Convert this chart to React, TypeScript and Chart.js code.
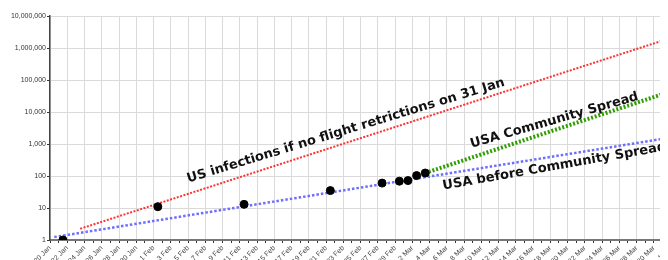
import React, { useEffect, useRef } from 'react';
import { Chart, registerables } from 'chart.js';

Chart.register(...registerables);

// ---- data ----
const AXIS_START = '2020-01-20';
const AXIS_END = '2020-04-01';
const MONTH_NAMES = ['Jan', 'Feb', 'Mar', 'Apr', 'May', 'Jun', 'Jul', 'Aug', 'Sep', 'Oct', 'Nov', 'Dec'];
const yTickValues = [1, 10, 100, 1000, 10000, 100000, 1000000, 10000000];

// reported US cases (plotted at noon of each day)
const caseDates = ['2020-01-21T12:00', '2020-02-01T12:00', '2020-02-11T12:00', '2020-02-21T12:00', '2020-02-27T12:00', '2020-02-29T12:00', '2020-03-01T12:00', '2020-03-02T12:00', '2020-03-03T12:00'];
const caseValues = [1, 11, 13, 35, 60, 69, 72, 103, 124];

// trend lines
const noFlightBanDates = ['2020-01-23T12:00', '2020-04-01T12:00'];
const noFlightBanValues = [2.25, 2290000];
const beforeSpreadDates = ['2020-01-20T12:00', '2020-04-01T12:00'];
const beforeSpreadValues = [1.24, 1680];
const communitySpreadDates = ['2020-03-03T12:00', '2020-04-01T12:00'];
const communitySpreadValues = [124, 49000];

// line annotations
const labelTexts = ['US infections if no flight retrictions on 31 Jan', 'USA Community Spread', 'USA before Community Spread'];
const labelDates = ['2020-02-23T10:00', '2020-03-18T14:00', '2020-03-18T13:00'];
const labelValues = [2050, 4300, 155];
const labelAngles = [-17, -16, -10];

// ---- helpers ----
const DAY_MS = 86400000;
const parseUTC = (s: string) => Date.parse(s.includes('T') ? s + 'Z' : s + 'T00:00Z');
const startMs = parseUTC(AXIS_START);
const toDay = (s: string) => (parseUTC(s) - startMs) / DAY_MS;
const totalDays = toDay(AXIS_END);
const dayTicks: number[] = [];
for (let d = 0; d <= totalDays; d++) dayTicks.push(d);

const dayLabel = (v: number) => {
  if (Math.round(v) % 2 !== 0) return '';
  const dt = new Date(startMs + v * DAY_MS);
  return `${dt.getUTCDate()} ${MONTH_NAMES[dt.getUTCMonth()]}`;
};

const series = (dates: string[], values: number[]) => dates.map((d, i) => ({ x: toDay(d), y: values[i] }));

const labelPlugin = {
  id: 'lineLabels',
  afterDatasetsDraw(chart: any) {
    const { ctx, scales } = chart;
    ctx.save();
    ctx.font = 'bold 13px "DejaVu Sans"';
    ctx.fillStyle = '#111';
    ctx.textAlign = 'center';
    ctx.textBaseline = 'alphabetic';
    labelTexts.forEach((t, i) => {
      const px = scales.x.getPixelForValue(toDay(labelDates[i]));
      const py = scales.y.getPixelForValue(labelValues[i]);
      ctx.save();
      ctx.translate(px, py);
      ctx.rotate((labelAngles[i] * Math.PI) / 180);
      ctx.fillText(t, 0, 0);
      ctx.restore();
    });
    ctx.restore();
  },
};

export default function App() {
  const ref = useRef<HTMLCanvasElement | null>(null);

  useEffect(() => {
    if (!ref.current) return;
    const font = { family: '"Liberation Sans", Arial, sans-serif', size: 7 };
    const chart = new Chart(ref.current, {
      type: 'line',
      data: {
        datasets: [
          {
            label: 'US cases',
            data: series(caseDates, caseValues),
            showLine: false,
            pointRadius: 4,
            pointBackgroundColor: '#000',
            pointBorderColor: '#000',
            borderColor: '#000',
          },
          {
            label: 'No flight restrictions',
            data: series(noFlightBanDates, noFlightBanValues),
            borderColor: 'rgba(255,40,40,0.95)',
            borderWidth: 2,
            borderDash: [2, 1.5],
            pointRadius: 0,
          },
          {
            label: 'Community spread',
            data: series(communitySpreadDates, communitySpreadValues),
            borderColor: '#2f9e00',
            borderWidth: 4,
            borderDash: [2, 1.8],
            pointRadius: 0,
          },
          {
            label: 'Before community spread',
            data: series(beforeSpreadDates, beforeSpreadValues),
            borderColor: '#6e6eff',
            borderWidth: 2.5,
            borderDash: [2.5, 2],
            pointRadius: 0,
          },
        ],
      },
      options: {
        responsive: false,
        animation: false,
        devicePixelRatio: 1,
        layout: { padding: { top: 8, right: 0, left: 0, bottom: 0 } },
        plugins: { legend: { display: false }, tooltip: { enabled: false } },
        scales: {
          x: {
            type: 'linear',
            min: 0,
            max: totalDays,
            afterBuildTicks: (scale: any) => {
              scale.ticks = dayTicks.map((v) => ({ value: v }));
            },
            afterFit: (scale: any) => {
              scale.height = 20;
            },
            grid: {
              color: (c: any) => (c.tick && Math.round(c.tick.value) % 2 === 0 ? '#dadada' : 'rgba(0,0,0,0)'),
              tickColor: '#333',
              tickLength: 3,
              lineWidth: 1,
            },
            border: { color: '#777', width: 2 },
            ticks: {
              autoSkip: false,
              minRotation: 45,
              maxRotation: 45,
              padding: 1,
              font,
              color: '#444',
              callback: (v: any) => dayLabel(Number(v)),
            },
          },
          y: {
            type: 'logarithmic',
            min: 1,
            max: 10000000,
            afterBuildTicks: (scale: any) => {
              scale.ticks = yTickValues.map((v) => ({ value: v }));
            },
            afterFit: (scale: any) => {
              scale.width = 42;
            },
            grid: { color: '#dadada', tickColor: '#333', tickLength: 3, lineWidth: 1 },
            border: { color: '#444', width: 1.5 },
            ticks: {
              autoSkip: false,
              padding: 1,
              font,
              color: '#333',
              callback: (v: any) => Number(v).toLocaleString('en-US'),
            },
          },
        },
      },
      plugins: [labelPlugin],
    } as any);
    return () => chart.destroy();
  }, []);

  return (
    <div style={{ width: 660, height: 252, overflow: 'hidden' }}>
      <canvas ref={ref} width={670} height={252} style={{ display: 'block' }} />
    </div>
  );
}
